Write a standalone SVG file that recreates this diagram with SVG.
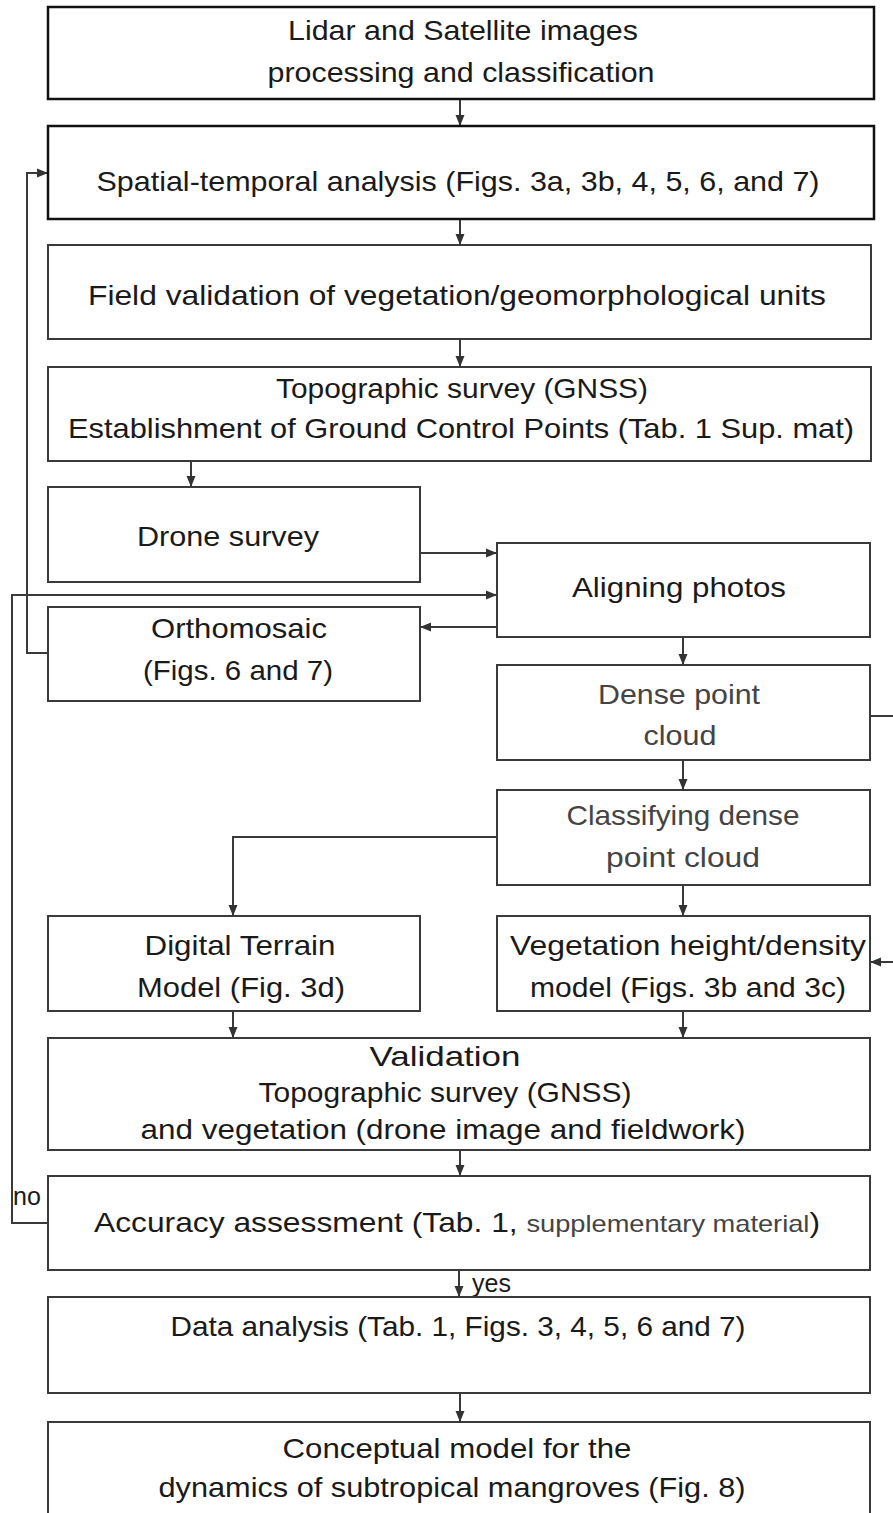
<svg xmlns="http://www.w3.org/2000/svg" width="893" height="1513" viewBox="0 0 893 1513">
<style>
.box{fill:#fff;stroke:#3a3a3a;stroke-width:2}
.box.strong{stroke:#111;stroke-width:2.5}
.t{font-family:"Liberation Sans",Arial,sans-serif;font-size:28px;fill:#1a1a1a;text-anchor:middle}
.g{fill:#444}
.s{font-size:24px;fill:#444}
.lbl{font-family:"Liberation Sans",Arial,sans-serif;font-size:25px;fill:#1a1a1a}
.c{fill:none;stroke:#3a3a3a;stroke-width:2}
</style>
<defs>
<marker id="ah" markerUnits="userSpaceOnUse" markerWidth="12" markerHeight="10" refX="11" refY="5" orient="auto">
<path d="M0,0.5 L11,5 L0,9.5 z" fill="#333"/>
</marker>
</defs>
<g id="connectors">
<path class="c" d="M460,99 V126" marker-end="url(#ah)"/>
<path class="c" d="M460,219 V245" marker-end="url(#ah)"/>
<path class="c" d="M460,339 V367" marker-end="url(#ah)"/>
<path class="c" d="M191,461 V487" marker-end="url(#ah)"/>
<path class="c" d="M420,553 H497" marker-end="url(#ah)"/>
<path class="c" d="M48,1223 H12 V595 H497" marker-end="url(#ah)"/>
<path class="c" d="M497,627 H420" marker-end="url(#ah)"/>
<path class="c" d="M48,653 H27 V173 H48" marker-end="url(#ah)"/>
<path class="c" d="M683,637 V665" marker-end="url(#ah)"/>
<path class="c" d="M870,716 H905 V962 H870" marker-end="url(#ah)"/>
<path class="c" d="M683,760 V790" marker-end="url(#ah)"/>
<path class="c" d="M497,837 H233 V916" marker-end="url(#ah)"/>
<path class="c" d="M683,885 V916" marker-end="url(#ah)"/>
<path class="c" d="M233,1011 V1038" marker-end="url(#ah)"/>
<path class="c" d="M683,1011 V1038" marker-end="url(#ah)"/>
<path class="c" d="M460,1150 V1176" marker-end="url(#ah)"/>
<path class="c" d="M459,1270 V1297" marker-end="url(#ah)"/>
<path class="c" d="M460,1393 V1422" marker-end="url(#ah)"/>
<text class="lbl" x="13" y="1205">no</text>
<text class="lbl" x="472" y="1292">yes</text>
</g>
<g id="n1"><rect class="box strong" x="48" y="7" width="826" height="92"/>
<text class="t" x="463" y="40" textLength="350" lengthAdjust="spacingAndGlyphs">Lidar and Satellite images</text>
<text class="t" x="461" y="82" textLength="387" lengthAdjust="spacingAndGlyphs">processing and classification</text></g>
<g id="n2"><rect class="box strong" x="48" y="126" width="826" height="93"/>
<text class="t" x="458" y="191" textLength="723" lengthAdjust="spacingAndGlyphs">Spatial-temporal analysis (Figs. 3a, 3b, 4, 5, 6, and 7)</text></g>
<g id="n3"><rect class="box" x="48" y="245" width="823" height="94"/>
<text class="t" x="457" y="305" textLength="738" lengthAdjust="spacingAndGlyphs">Field validation of vegetation/geomorphological units</text></g>
<g id="n4"><rect class="box" x="48" y="367" width="823" height="94"/>
<text class="t" x="462" y="398" textLength="372" lengthAdjust="spacingAndGlyphs">Topographic survey (GNSS)</text>
<text class="t" x="461" y="438" textLength="786" lengthAdjust="spacingAndGlyphs">Establishment of Ground Control Points (Tab. 1 Sup. mat)</text></g>
<g id="n5"><rect class="box" x="48" y="487" width="372" height="95"/>
<text class="t" x="228" y="546" textLength="182" lengthAdjust="spacingAndGlyphs">Drone survey</text></g>
<g id="n6"><rect class="box" x="497" y="543" width="373" height="94"/>
<text class="t" x="679" y="597" textLength="214" lengthAdjust="spacingAndGlyphs">Aligning photos</text></g>
<g id="n7"><rect class="box" x="48" y="607" width="372" height="94"/>
<text class="t" x="239" y="638" textLength="176" lengthAdjust="spacingAndGlyphs">Orthomosaic</text>
<text class="t" x="238" y="680" textLength="190" lengthAdjust="spacingAndGlyphs">(Figs. 6 and 7)</text></g>
<g id="n8"><rect class="box" x="497" y="665" width="373" height="95"/>
<text class="t g" x="679" y="704" textLength="162" lengthAdjust="spacingAndGlyphs">Dense point</text>
<text class="t g" x="680" y="745" textLength="73" lengthAdjust="spacingAndGlyphs">cloud</text></g>
<g id="n9"><rect class="box" x="497" y="790" width="373" height="95"/>
<text class="t g" x="683" y="825" textLength="233" lengthAdjust="spacingAndGlyphs">Classifying dense</text>
<text class="t g" x="683" y="867" textLength="154" lengthAdjust="spacingAndGlyphs">point cloud</text></g>
<g id="n10"><rect class="box" x="48" y="916" width="372" height="95"/>
<text class="t" x="240" y="955" textLength="191" lengthAdjust="spacingAndGlyphs">Digital Terrain</text>
<text class="t" x="241" y="997" textLength="208" lengthAdjust="spacingAndGlyphs">Model (Fig. 3d)</text></g>
<g id="n11"><rect class="box" x="497" y="916" width="373" height="95"/>
<text class="t" x="688" y="955" textLength="356" lengthAdjust="spacingAndGlyphs">Vegetation height/density</text>
<text class="t" x="688" y="997" textLength="316" lengthAdjust="spacingAndGlyphs">model (Figs. 3b and 3c)</text></g>
<g id="n12"><rect class="box" x="48" y="1038" width="822" height="112"/>
<text class="t" x="445" y="1066" textLength="151" lengthAdjust="spacingAndGlyphs">Validation</text>
<text class="t" x="445" y="1102" textLength="373" lengthAdjust="spacingAndGlyphs">Topographic survey (GNSS)</text>
<text class="t" x="443" y="1139" textLength="605" lengthAdjust="spacingAndGlyphs">and vegetation (drone image and fieldwork)</text></g>
<g id="n13"><rect class="box" x="48" y="1176" width="822" height="94"/>
<text class="t" x="457" y="1232" textLength="726" lengthAdjust="spacingAndGlyphs">Accuracy assessment (Tab. 1, <tspan class="s">supplementary material</tspan>)</text></g>
<g id="n14"><rect class="box" x="48" y="1297" width="822" height="96"/>
<text class="t" x="458" y="1336" textLength="575" lengthAdjust="spacingAndGlyphs">Data analysis (Tab. 1, Figs. 3, 4, 5, 6 and 7)</text></g>
<g id="n15"><rect class="box" x="48" y="1422" width="822" height="100"/>
<text class="t" x="457" y="1458" textLength="349" lengthAdjust="spacingAndGlyphs">Conceptual model for the</text>
<text class="t" x="452" y="1497" textLength="587" lengthAdjust="spacingAndGlyphs">dynamics of subtropical mangroves (Fig. 8)</text></g>
</svg>
